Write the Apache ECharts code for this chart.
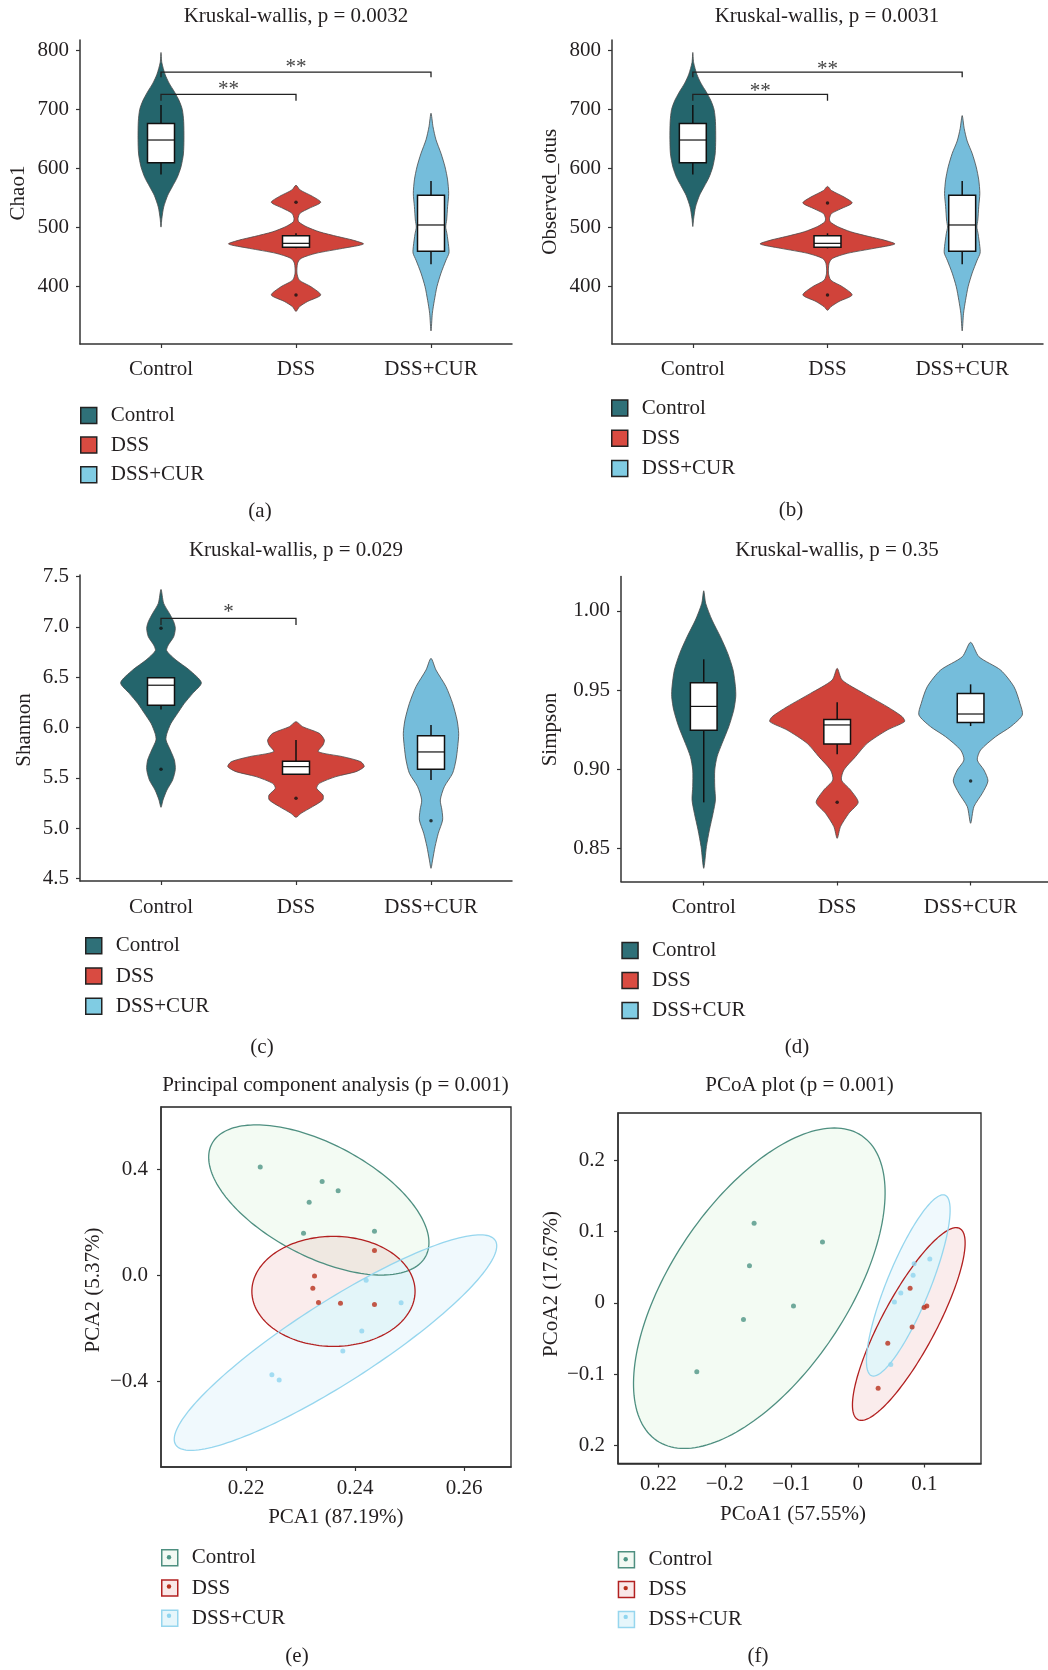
<!DOCTYPE html>
<html><head><meta charset="utf-8">
<script src="https://cdn.jsdelivr.net/npm/echarts@6/dist/echarts.min.js"></script>
<style>html,body{margin:0;padding:0;background:#fff}#c{width:1048px;height:1670px}</style>
</head><body><div id="c"></div>
<script>
// ---------------- data ----------------
const groups = ['Control', 'DSS', 'DSS+CUR'];
const groupPos = [1, 2, 3];

// (a) Chao1 : violin profiles [value, half-width in category units]
const chaoViolinControl = [[797,0],[780,0.006],[760,0.03],[745,0.06],[730,0.10],[715,0.135],[700,0.158],[680,0.168],[650,0.17],[625,0.166],[603,0.148],[585,0.12],[570,0.085],[555,0.05],[535,0.02],[515,0.006],[501,0]];
const chaoViolinDSS = [[572,0],[564,0.03],[553,0.123],[543,0.183],[533,0.099],[524.5,0.03],[516,0.015],[510,0.02],[502,0.074],[493,0.173],[485,0.309],[479,0.42],[472.4,0.5],[465,0.346],[456.6,0.148],[448,0.037],[440,0.012],[423,0.007],[411,0.025],[400,0.111],[386,0.183],[375,0.086],[366,0.025],[358,0]];
const chaoViolinCUR = [[694,0],[671,0.015],[649,0.037],[626,0.074],[603,0.104],[581,0.123],[558,0.131],[536,0.123],[513,0.116],[501,0.109],[490,0.118],[468,0.131],[457,0.133],[445,0.111],[423,0.074],[400,0.044],[377,0.025],[355,0.01],[325,0]];
const chaoBoxes = [[590,610,648.6,676.6,708],[465,467,473.5,486.5,490.5],[438,460,504.6,555,579]]; // low,q1,median,q3,high
const chaoOutliers = [[2,543],[2,386]];
const chaoBrackets = [[1,3,763.5,755],[1,2,726,715]];
const chaoBracketLabels = ['**','**'];
const chaoTicks = [400,500,600,700,800];

// (b) Observed_otus
const otuViolinControl = [[797,0],[780,0.006],[760,0.03],[745,0.06],[730,0.10],[715,0.135],[700,0.158],[680,0.168],[650,0.17],[625,0.166],[603,0.148],[585,0.12],[570,0.085],[555,0.05],[535,0.02],[515,0.006],[502,0]];
const otuViolinDSS = [[570,0],[563,0.03],[552,0.123],[542,0.183],[532,0.099],[524,0.03],[516,0.015],[510,0.02],[502,0.074],[493,0.173],[485,0.309],[479,0.42],[472.4,0.5],[465,0.346],[456.6,0.148],[448,0.037],[440,0.012],[423,0.007],[411,0.025],[400,0.111],[386,0.183],[375,0.086],[366,0.025],[360,0]];
const otuViolinCUR = [[690,0],[668,0.015],[647,0.037],[626,0.074],[603,0.104],[581,0.123],[558,0.131],[536,0.123],[513,0.116],[501,0.109],[490,0.118],[468,0.131],[457,0.133],[445,0.111],[423,0.074],[400,0.044],[377,0.025],[355,0.01],[325,0]];
const otuBoxes = [[590,610,648.6,676.6,708],[465,467,473.5,486.5,490.5],[438,460,504.6,555,579]];
const otuOutliers = [[2,542],[2,386]];
const otuBrackets = [[1,3,763.5,755],[1,2,726,715]];
const otuBracketLabels = ['**','**'];
const otuTicks = [400,500,600,700,800];

// (c) Shannon
const shannonViolinControl = [[7.372,0],[7.233,0.02],[7.134,0.062],[7.051,0.094],[6.985,0.106],[6.902,0.094],[6.819,0.054],[6.763,0.042],[6.67,0.111],[6.571,0.21],[6.445,0.299],[6.339,0.235],[6.24,0.173],[6.141,0.123],[6.041,0.074],[5.942,0.044],[5.876,0.037],[5.776,0.069],[5.677,0.099],[5.584,0.106],[5.478,0.086],[5.379,0.044],[5.28,0.015],[5.207,0]];
const shannonViolinDSS = [[6.058,0],[6.008,0.049],[5.942,0.173],[5.876,0.21],[5.826,0.2],[5.76,0.165],[5.71,0.346],[5.66,0.48],[5.611,0.505],[5.561,0.444],[5.512,0.296],[5.445,0.173],[5.396,0.153],[5.329,0.2],[5.28,0.198],[5.214,0.123],[5.147,0.037],[5.108,0]];
const shannonViolinCUR = [[6.687,0],[6.571,0.037],[6.406,0.111],[6.24,0.16],[6.074,0.193],[5.942,0.205],[5.81,0.198],[5.677,0.185],[5.545,0.16],[5.412,0.099],[5.28,0.069],[5.18,0.081],[5.081,0.086],[4.949,0.054],[4.816,0.03],[4.684,0.012],[4.601,0]];
const shannonBoxes = [[6.18,6.22,6.42,6.495,6.495],[5.53,5.535,5.611,5.664,5.876],[5.478,5.584,5.757,5.919,6.025]];
const shannonOutliers = [[1,6.985],[1,5.584],[2,5.296],[3,5.074]];
const shannonBrackets = [[1,2,7.084,7.018]];
const shannonBracketLabels = ['*'];
const shannonTicks = [4.5,5.0,5.5,6.0,6.5,7.0,7.5];
const shannonTickLabels = ['4.5','5.0','5.5','6.0','6.5','7.0','7.5'];

// (d) Simpson
const simpsonViolinControl = [[1.0126,0],[1.0046,0.015],[0.9941,0.0625],[0.9836,0.125],[0.9731,0.18],[0.9626,0.22],[0.9521,0.2375],[0.9458,0.24],[0.9374,0.225],[0.9269,0.1875],[0.9164,0.1375],[0.908,0.1],[0.8996,0.0825],[0.8891,0.0825],[0.8807,0.0875],[0.8723,0.07],[0.8618,0.0425],[0.8513,0.02],[0.8376,0]];
const simpsonViolinDSS = [[0.9637,0],[0.9563,0.0375],[0.9479,0.2],[0.9395,0.375],[0.9332,0.4875],[0.9301,0.505],[0.9248,0.375],[0.9164,0.225],[0.908,0.1375],[0.8996,0.05],[0.8933,0.0325],[0.887,0.1],[0.8792,0.1575],[0.8723,0.0875],[0.8639,0.025],[0.8565,0]];
const simpsonViolinCUR = [[0.9801,0],[0.971,0.0625],[0.9626,0.225],[0.9521,0.325],[0.9416,0.37],[0.9343,0.3875],[0.9269,0.3],[0.9206,0.1875],[0.9122,0.075],[0.9059,0.05],[0.8996,0.1],[0.8927,0.13],[0.8849,0.0875],[0.8765,0.025],[0.866,0]];
const simpsonBoxes = [[0.8792,0.9246,0.9397,0.9546,0.9694],[0.9095,0.916,0.928,0.9315,0.9423],[0.9273,0.9296,0.9349,0.9479,0.9536]];
const simpsonOutliers = [[2,0.8792],[3,0.8927]];
const simpsonTicks = [0.85,0.90,0.95,1.00];
const simpsonTickLabels = ['0.85','0.90','0.95','1.00'];

// (e) PCA points
const pcaControl = [[0.22257,0.4075],[0.23394,0.3537],[0.23688,0.3179],[0.23156,0.2746],[0.23052,0.1582],[0.24355,0.1657]];
const pcaDSS = [[0.24355,0.0925],[0.23254,-0.003],[0.23223,-0.0493],[0.23327,-0.103],[0.23731,-0.106],[0.24355,-0.1104]];
const pcaCUR = [[0.24202,-0.0194],[0.24844,-0.1045],[0.24122,-0.2104],[0.23774,-0.2866],[0.22471,-0.3761],[0.22605,-0.3955]];
// ellipses: [cx, cy, ax, ay, bx, by]  (centre + two conjugate half-axis vectors)
const pcaEllipseControl = [0.23333,0.2836,0.01994,-0.1976,-0.003376,-0.2030];
const pcaEllipseDSS = [0.23602,-0.0612,0.014984,0,0,0.2075];
const pcaEllipseCUR = [0.23639,-0.2545,0.02945,0.3813,0.00307,-0.1410];
const pcaXTicks = [0.22,0.24,0.26];
const pcaXTickLabels = ['0.22','0.24','0.26'];
const pcaYTicks = [-0.4,0,0.4];
const pcaYTickLabels = ['\u22120.4','0.0','0.4'];

// (f) PCoA points
const pcoaControl = [[-0.1559,0.1117],[-0.0531,0.0856],[-0.1629,0.0522],[-0.0967,-0.0044],[-0.1719,-0.0233],[-0.2421,-0.0967]];
const pcoaDSS = [[0.0787,0.0206],[0.1038,-0.0044],[0.0997,-0.0067],[0.0817,-0.0339],[0.0451,-0.0567],[0.0306,-0.12]];
const pcoaCUR = [[0.1083,0.0617],[0.0847,0.055],[0.0832,0.0389],[0.0647,0.0139],[0.0551,0.0011],[0.0496,-0.0867]];
const pcoaEllipseControl = [-0.1481,0.02056,0.16481,0.20556,0.09288,-0.0915];
const pcoaEllipseDSS = [0.0767,-0.0297,0.07815,0.1332,0.03273,-0.02361];
const pcoaEllipseCUR = [0.07594,0.02444,0.05619,0.12628,0.02832,-0.0155];
const pcoaXTicks = [-0.3,-0.2,-0.1,0,0.1];
const pcoaXTickLabels = ['0.22','\u22120.2','\u22120.1','0','0.1'];
const pcoaYTicks = [-0.2,-0.1,0,0.1,0.2];
const pcoaYTickLabels = ['0.2','\u22120.1','0','0.1','0.2'];

// ---------------- style ----------------
const FONT = 'Liberation Serif';
const FS = 21;
const TXT = '#231f20';
const violinFill = ['#24656c', '#d0433a', '#75bddb'];
const legendFill = ['#2f7078', '#d94b41', '#80cce3'];
const ptColor = ['#4d9585', '#b8301c', '#8fd5ef'];
const ellStroke = ['#4e8f80', '#b22020', '#96d6ee'];
const ellFill = ['rgba(190,232,190,0.18)', 'rgba(220,110,110,0.13)', 'rgba(140,210,240,0.13)'];
const overlapFill = '#e3f5f9';
const legendLightFill = ['#f2f9f3', '#f9e8e8', '#e6f6fb'];

const grids = [
  {left: 80, top: 40, width: 432, height: 304},
  {left: 612, top: 40, width: 431, height: 304},
  {left: 80, top: 575, width: 432, height: 306},
  {left: 621, top: 576.5, width: 427, height: 305},
  {left: 161, top: 1107, width: 350, height: 360, show: true, borderColor: '#222', borderWidth: 1.3},
  {left: 618, top: 1113, width: 363, height: 350.5, show: true, borderColor: '#222', borderWidth: 1.3}
];

function fmt(ticks, labels) {
  return v => { const i = ticks.findIndex(t => Math.abs(t - v) < 1e-9); return i >= 0 ? labels[i] : ''; };
}
function axis(gi, min, max, ticks, labels, margin) {
  return {
    type: 'value', gridIndex: gi, min, max,
    axisLine: {show: true, onZero: false, lineStyle: {color: '#333', width: 1.5}},
    axisTick: {show: true, customValues: ticks, length: 4, lineStyle: {color: '#333', width: 1.2}},
    axisLabel: {customValues: ticks, formatter: fmt(ticks, labels), margin, fontFamily: FONT, fontSize: FS, color: TXT},
    splitLine: {show: false}
  };
}
const numLabels = t => t.map(String);

const xAxes = [
  axis(0, 0.4, 3.6, groupPos, groups, 14.5),
  axis(1, 0.4, 3.6, groupPos, groups, 14.5),
  axis(2, 0.4, 3.6, groupPos, groups, 15.5),
  axis(3, 0.38, 3.58, groupPos, groups, 15),
  axis(4, 0.20435, 0.26862, pcaXTicks, pcaXTickLabels, 10.5),
  axis(5, -0.3606, 0.1853, pcoaXTicks, pcoaXTickLabels, 10.5)
];
const yAxes = [
  axis(0, 302.9, 818.1, chaoTicks, numLabels(chaoTicks), 11),
  axis(1, 302.9, 818.1, otuTicks, numLabels(otuTicks), 11),
  axis(2, 4.475, 7.515, shannonTicks, shannonTickLabels, 11),
  axis(3, 0.8293, 1.0216, simpsonTicks, simpsonTickLabels, 11),
  axis(4, -0.7238, 0.6343, pcaYTicks, pcaYTickLabels, 13),
  axis(5, -0.2256, 0.2666, pcoaYTicks, pcoaYTickLabels, 13)
];

const series = [];
function addViolin(gi, x, profile, color, name) {
  series.push({
    type: 'custom', name, xAxisIndex: gi, yAxisIndex: gi, z: 2, silent: true,
    data: [[x, profile[0][0]]],
    renderItem(params, api) {
      const right = profile.map(([v, w]) => api.coord([x + w, v]));
      const left = profile.slice().reverse().filter(([v, w]) => w > 0).map(([v, w]) => api.coord([x - w, v]));
      return {type: 'polygon', shape: {points: right.concat(left), smooth: 0.25},
        style: {fill: color, stroke: '#4a4a4a', lineWidth: 0.8}};
    }
  });
}
function addBoxes(gi, boxes) {
  series.push({
    type: 'custom', name: 'box', xAxisIndex: gi, yAxisIndex: gi, z: 3, silent: true,
    data: boxes.map((b, i) => [groupPos[i], ...b]),
    encode: {x: 0, y: [1, 2, 3, 4, 5]},
    renderItem(params, api) {
      const x = api.value(0);
      const hw = api.size([0.1, 0])[0];
      const pLo = api.coord([x, api.value(1)]), pQ1 = api.coord([x, api.value(2)]);
      const pMd = api.coord([x, api.value(3)]), pQ3 = api.coord([x, api.value(4)]);
      const pHi = api.coord([x, api.value(5)]);
      const ls = {stroke: '#111', lineWidth: 1.5};
      return {type: 'group', children: [
        {type: 'line', shape: {x1: pHi[0], y1: pHi[1], x2: pQ3[0], y2: pQ3[1]}, style: ls},
        {type: 'line', shape: {x1: pLo[0], y1: pLo[1], x2: pQ1[0], y2: pQ1[1]}, style: ls},
        {type: 'rect', shape: {x: pQ3[0] - hw, y: pQ3[1], width: 2 * hw, height: pQ1[1] - pQ3[1]},
          style: {fill: '#fff', stroke: '#111', lineWidth: 1.5}},
        {type: 'line', shape: {x1: pMd[0] - hw, y1: pMd[1], x2: pMd[0] + hw, y2: pMd[1]}, style: {stroke: '#111', lineWidth: 1.2}}
      ]};
    }
  });
}
function addOutliers(gi, pts) {
  series.push({type: 'scatter', name: 'outlier', xAxisIndex: gi, yAxisIndex: gi, z: 4, silent: true,
    symbolSize: 3.5, itemStyle: {color: '#111'}, data: pts});
}
function addBrackets(gi, brackets, labels, gap) {
  series.push({
    type: 'custom', name: 'bracket', xAxisIndex: gi, yAxisIndex: gi, z: 5, silent: true,
    data: brackets, encode: {x: [0, 1], y: [2, 3]},
    renderItem(params, api) {
      const x1 = api.value(0), x2 = api.value(1), yt = api.value(2), yd = api.value(3);
      const a = api.coord([x1, yd]), b = api.coord([x1, yt]), c = api.coord([x2, yt]), d = api.coord([x2, yd]);
      return {type: 'group', children: [
        {type: 'polyline', shape: {points: [a, b, c, d]}, style: {stroke: '#222', lineWidth: 1.3, fill: null}},
        {type: 'text', x: (b[0] + c[0]) / 2, y: b[1] - gap,
          style: {text: labels[params.dataIndex], font: FS + 'px ' + FONT, fill: '#444',
            align: 'center', verticalAlign: 'middle', textAlign: 'center', textVerticalAlign: 'middle'}}
      ]};
    }
  });
}
function violinPanel(gi, violins, boxes, outliers, brackets, labels, gap) {
  violins.forEach((p, i) => addViolin(gi, groupPos[i], p, violinFill[i], groups[i]));
  addBoxes(gi, boxes);
  addOutliers(gi, outliers);
  if (brackets) addBrackets(gi, brackets, labels, gap);
}
violinPanel(0, [chaoViolinControl, chaoViolinDSS, chaoViolinCUR], chaoBoxes, chaoOutliers, chaoBrackets, chaoBracketLabels, 5);
violinPanel(1, [otuViolinControl, otuViolinDSS, otuViolinCUR], otuBoxes, otuOutliers, otuBrackets, otuBracketLabels, 2.5);
violinPanel(2, [shannonViolinControl, shannonViolinDSS, shannonViolinCUR], shannonBoxes, shannonOutliers, shannonBrackets, shannonBracketLabels, 6);
violinPanel(3, [simpsonViolinControl, simpsonViolinDSS, simpsonViolinCUR], simpsonBoxes, simpsonOutliers, null, null, 0);

function ellipsePts(api, e) {
  const pts = [];
  for (let k = 0; k < 180; k++) {
    const t = k / 180 * 2 * Math.PI;
    pts.push(api.coord([e[0] + e[2] * Math.cos(t) + e[4] * Math.sin(t), e[1] + e[3] * Math.cos(t) + e[5] * Math.sin(t)]));
  }
  return pts;
}
function addEllipseLayer(gi, e, i, layer) {
  series.push({
    type: 'custom', name: groups[i], xAxisIndex: gi, yAxisIndex: gi, z: layer === 'fill' ? 2 + i * 0.1 : 4 + i * 0.1, silent: true,
    data: [[e[0], e[1]]],
    renderItem(params, api) {
      return {type: 'polygon', shape: {points: ellipsePts(api, e)},
        style: layer === 'fill' ? {fill: ellFill[i], stroke: null} : {fill: null, stroke: ellStroke[i], lineWidth: 1.3}};
    }
  });
}
// region shared by the DSS and DSS+CUR ellipses
function addOverlap(gi, eA, eB) {
  series.push({
    type: 'custom', name: 'overlap', xAxisIndex: gi, yAxisIndex: gi, z: 3, silent: true,
    data: [[eA[0], eA[1]]],
    renderItem(params, api) {
      return {type: 'polygon', shape: {points: ellipsePts(api, eA)}, style: {fill: overlapFill, stroke: null},
        clipPath: {type: 'polygon', shape: {points: ellipsePts(api, eB)}}};
    }
  });
}
function addPoints(gi, pts, i) {
  series.push({type: 'scatter', name: groups[i], xAxisIndex: gi, yAxisIndex: gi, z: 6, silent: true,
    symbolSize: 5, itemStyle: {color: ptColor[i]}, data: pts});
}
function ordinationPanel(gi, ells, pts) {
  ells.forEach((e, i) => addEllipseLayer(gi, e, i, 'fill'));
  addOverlap(gi, ells[1], ells[2]);
  ells.forEach((e, i) => addEllipseLayer(gi, e, i, 'stroke'));
  pts.forEach((p, i) => addPoints(gi, p, i));
}
ordinationPanel(4, [pcaEllipseControl, pcaEllipseDSS, pcaEllipseCUR], [pcaControl, pcaDSS, pcaCUR]);
ordinationPanel(5, [pcoaEllipseControl, pcoaEllipseDSS, pcoaEllipseCUR], [pcoaControl, pcoaDSS, pcoaCUR]);

// ---------------- legends ----------------
const legendSpec = [ // left, first row centre, row spacing, style
  [80, 415, 28.6, 'box'], [611, 407.5, 29.2, 'box'], [85, 945.3, 29.2, 'box'],
  [621.3, 950, 29, 'box'], [161, 1557.3, 29.2, 'ell'], [617.7, 1559.3, 28.8, 'ell']
];
const legends = legendSpec.map(([left, c0, sp, kind]) => ({
  orient: 'vertical', left, top: c0 - 10, itemWidth: 16, itemHeight: 16, itemGap: sp - 20,
  padding: 0, selectedMode: false,
  textStyle: {fontFamily: FONT, fontSize: FS, color: TXT, padding: [0, 0, 0, 9], lineHeight: 20},
  data: groups.map((g, i) => ({
    name: g, icon: 'rect',
    itemStyle: kind === 'box'
      ? {color: legendFill[i], borderColor: '#222', borderWidth: 1.5}
      : {color: legendLightFill[i], borderColor: ellStroke[i], borderWidth: 1.5}
  }))
}));

// ---------------- free text ----------------
const titles = [
  ['Kruskal-wallis, p = 0.0032', 296, 16.7], ['Kruskal-wallis, p = 0.0031', 827, 16.7],
  ['Kruskal-wallis, p = 0.029', 296, 550], ['Kruskal-wallis, p = 0.35', 837, 550],
  ['Principal component analysis (p = 0.001)', 335.5, 1085.5], ['PCoA plot (p = 0.001)', 799.5, 1085.5]
];
const panelLabels = [['(a)', 260, 511], ['(b)', 791, 510], ['(c)', 262, 1047], ['(d)', 797, 1047], ['(e)', 297, 1656], ['(f)', 758, 1656]];
const yNames = [['Chao1', 18.5, 193], ['Observed_otus', 550, 191.7], ['Shannon', 24, 730], ['Simpson', 550, 729.6], ['PCA2 (5.37%)', 93.8, 1290], ['PCoA2 (17.67%)', 551, 1284]];
const xNames = [['PCA1 (87.19%)', 335.8, 1517.5], ['PCoA1 (57.55%)', 793, 1514.5]];

const graphics = [];
function txt(t, x, y, rot) {
  graphics.push({type: 'text', x, y, rotation: rot || 0, silent: true,
    style: {text: t, font: FS + 'px ' + FONT, fill: TXT, align: 'center', verticalAlign: 'middle', textAlign: 'center', textVerticalAlign: 'middle'}});
}
titles.forEach(t => txt(t[0], t[1], t[2]));
panelLabels.forEach(t => txt(t[0], t[1], t[2]));
yNames.forEach(t => txt(t[0], t[1], t[2], Math.PI / 2));
xNames.forEach(t => txt(t[0], t[1], t[2]));
// dots inside the PCA / PCoA legend keys
legendSpec.forEach(([left, c0, sp, kind]) => {
  if (kind !== 'ell') return;
  groups.forEach((g, i) => graphics.push({type: 'circle', silent: true, z: 100,
    shape: {cx: left + 8, cy: c0 + i * sp, r: 2.2}, style: {fill: ptColor[i]}}));
});

const chart = echarts.init(document.getElementById('c'), null, {renderer: 'canvas'});
chart.setOption({
  animation: false,
  backgroundColor: '#fff',
  grid: grids,
  xAxis: xAxes,
  yAxis: yAxes,
  legend: legends,
  series,
  graphic: graphics
});
</script>
</body></html>
